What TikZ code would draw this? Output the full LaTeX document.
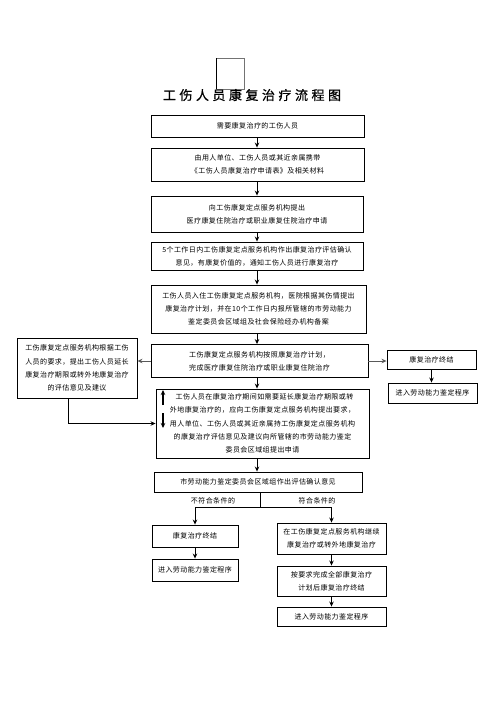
\documentclass[tikz,border=0pt]{standalone}
\usepackage{fontspec}
\newfontfamily\cjk[LetterSpace=6]{Noto Sans CJK SC}
\newfontfamily\cjktitle[LetterSpace=27,FakeBold=0.8]{Noto Sans CJK SC}
\usetikzlibrary{arrows.meta}

\begin{document}
\begin{tikzpicture}[x=1pt,y=-1pt,
    box/.style={draw,line width=0.9pt,inner sep=0pt,align=center,font=\cjk\fontsize{7}{13.2}\selectfont},
    arr/.style={-{Stealth[length=5pt,width=4.5pt]},line width=0.9pt},
    side/.style={arr,black!65},
    lbl/.style={font=\cjk\fontsize{7}{9}\selectfont}]
  \useasboundingbox (0,0) rectangle (496,702);
  % stray frame above the title
  \draw[black!55,line width=0.6pt] (216,58) rectangle (244,89);
  \draw[line width=0.8pt] (216,58) -- (216,89);
  \node[font=\cjktitle\fontsize{13}{15}\selectfont] (title) at (252,95) {工伤人员康复治疗流程图};
  % main column
  \node[box,minimum width=213,minimum height=22] (need) at (257.5,126) {需要康复治疗的工伤人员};
  \node[box,minimum width=213,minimum height=33] (apply) at (257.5,164.5) {由用人单位、工伤人员或其近亲属携带\\《工伤人员康复治疗申请表》及相关材料};
  \node[box,minimum width=212,minimum height=36] (submit) at (257,214) {向工伤康复定点服务机构提出\\医疗康复住院治疗或职业康复住院治疗申请};
  \node[box,minimum width=212,minimum height=28] (assess) at (257,256) {5个工作日内工伤康复定点服务机构作出康复治疗评估确认\\意见，有康复价值的，通知工伤人员进行康复治疗};
  \node[box,minimum width=215,minimum height=48] (admit) at (258.5,309) {工伤人员入住工伤康复定点服务机构，医院根据其伤情提出\\康复治疗计划，并在10个工作日内报所管辖的市劳动能力\\鉴定委员会区域组及社会保险经办机构备案};
  \node[box,minimum width=217,minimum height=33] (treat) at (259.5,361) {工伤康复定点服务机构按照康复治疗计划，\\完成医疗康复住院治疗或职业康复住院治疗};
  \node[box,minimum width=213,minimum height=69] (extend) at (262.5,423.5) {\hspace*{4pt}工伤人员在康复治疗期间如需要延长康复治疗期限或转\\外地康复治疗的，应向工伤康复定点服务机构提出要求，\\用人单位、工伤人员或其近亲属持工伤康复定点服务机构\\的康复治疗评估意见及建议向所管辖的市劳动能力鉴定\\委员会区域组提出申请};
  \node[box,minimum width=208,minimum height=20] (confirm) at (258,482) {市劳动能力鉴定委员会区域组作出评估确认意见};
  % branches
  \node[lbl] (nofit) at (213,501) {不符合条件的};
  \node[lbl] (fit) at (317,501) {符合条件的};
  \node[box,minimum width=86,minimum height=22] (endL) at (195,536) {康复治疗终结};
  \node[box,minimum width=86,minimum height=22] (apprL) at (195,570) {进入劳动能力鉴定程序};
  \node[box,minimum width=109,minimum height=31] (cont) at (331.5,538.5) {在工伤康复定点服务机构继续\\康复治疗或转外地康复治疗};
  \node[box,minimum width=109,minimum height=30] (finish) at (331.5,581) {按要求完成全部康复治疗\\计划后康复治疗终结};
  \node[box,minimum width=109,minimum height=19] (apprR) at (331.5,616.5) {进入劳动能力鉴定程序};
  % side boxes
  \node[box,minimum width=120,minimum height=60] (opinion) at (77,368) {工伤康复定点服务机构根据工伤\\人员的要求，提出工伤人员延长\\康复治疗期限或转外地康复治疗\\的评估意见及建议};
  \node[box,minimum width=89,minimum height=19] (endS) at (431.5,359.5) {康复治疗终结};
  \node[box,minimum width=89,minimum height=20] (apprS) at (432.5,393) {进入劳动能力鉴定程序};

  \coordinate (axis) at (257,0);
  \foreach \a/\b in {need/apply,apply/submit,submit/assess,assess/admit,admit/treat,treat/extend,extend/confirm}
    \draw[arr] (axis |- \a.south) -- (axis |- \b.north);
  \coordinate (fork) at (260,507);
  \draw[line width=0.9pt] (fork |- confirm.south) -- (fork);
  \draw[arr] (fork) -| (endL.north);
  \draw[arr] (fork) -| (cont.north);
  \draw[arr] (endL) -- (apprL);
  \draw[arr] (cont) -- (finish);
  \draw[arr] (finish) -- (apprR);
  \draw[side] (treat.west) -- (opinion.east |- treat.west);
  \draw[arr] ([xshift=-9pt]opinion.south) |- (extend.west);
  \draw[side] (treat.east) -- (endS.west |- treat.east);
  \draw[arr] (endS.south) -- (endS.south |- apprS.north);
  % small arrows inside the request box
  \draw[arr,line width=1.3pt] (163,405) -- (163,390);
  \draw[arr,line width=1.3pt] (163,413) -- (163,428);
\end{tikzpicture}
\end{document}
